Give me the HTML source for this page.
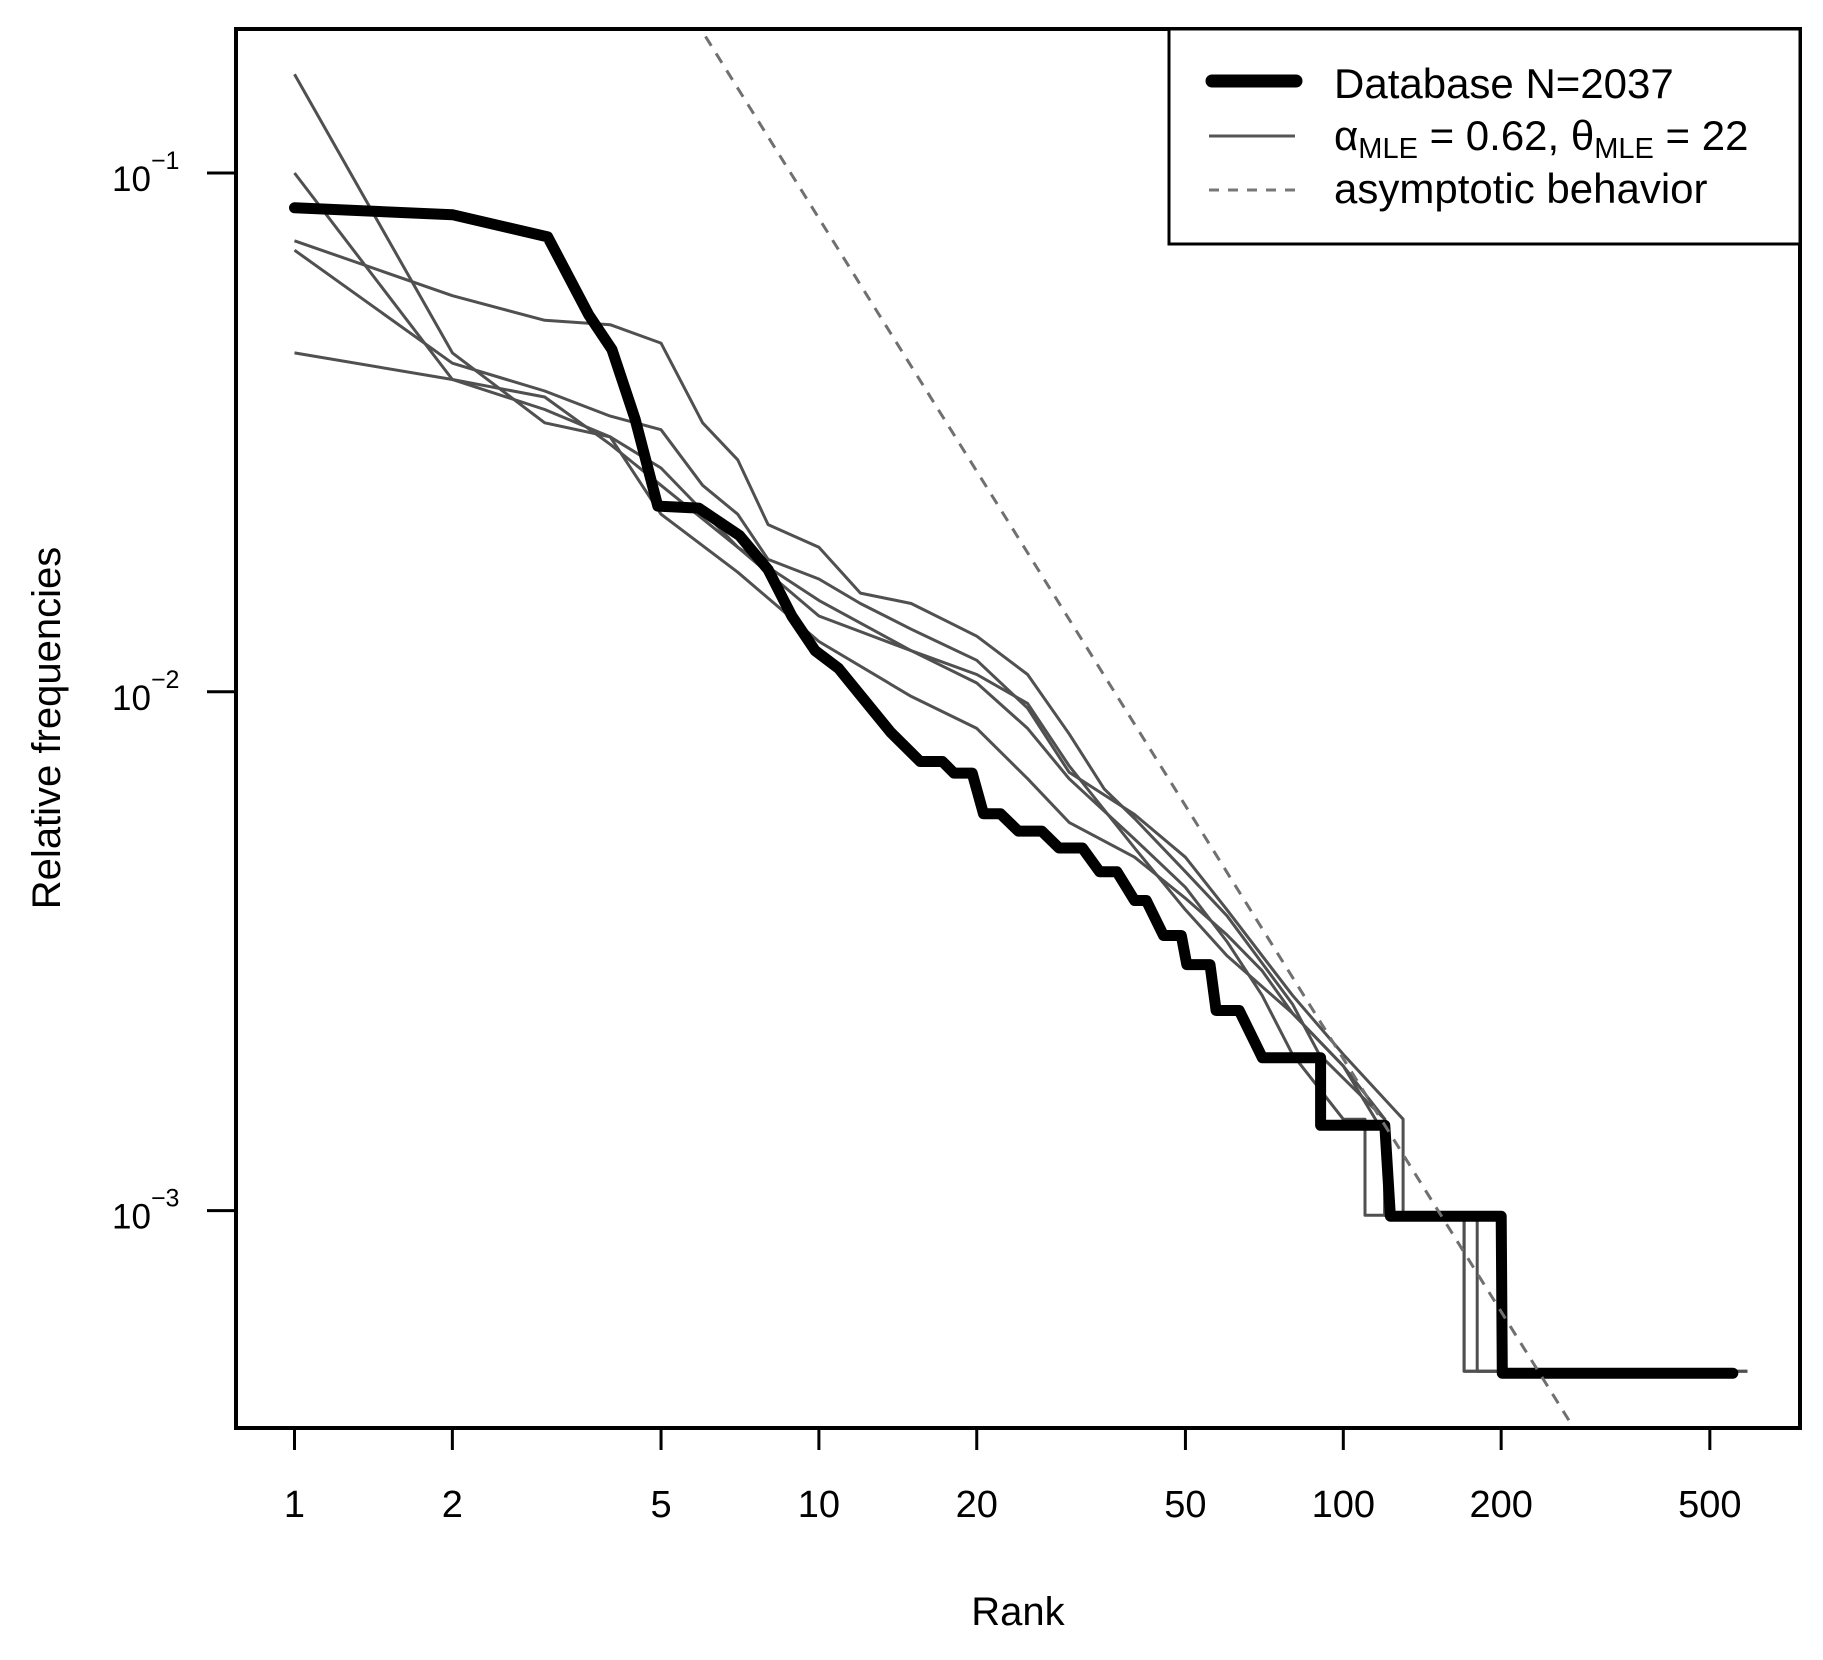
<!DOCTYPE html>
<html><head><meta charset="utf-8"><style>
html,body{margin:0;padding:0;background:#fff;}
svg{display:block;font-family:"Liberation Sans",Arial,sans-serif;}
</style></head><body>
<svg id="chart" width="1823" height="1660" viewBox="0 0 1823 1660" xmlns="http://www.w3.org/2000/svg">
<defs><clipPath id="plotclip"><rect x="236" y="29" width="1564" height="1399"/></clipPath></defs>
<g id="marks" clip-path="url(#plotclip)"></g>
<rect x="236" y="29" width="1564" height="1399" fill="none" stroke="#000" stroke-width="4"/>
<g id="xaxis"></g>
<g id="yaxis"></g>
<text x="1018" y="1625" font-size="40" text-anchor="middle">Rank</text>
<text transform="translate(60,728) rotate(-90)" font-size="40" text-anchor="middle">Relative frequencies</text>
<g>
<rect x="1169" y="29" width="631" height="215" fill="#fff" stroke="#000" stroke-width="3"/>
<line x1="1212" y1="81" x2="1296" y2="81" stroke="#000" stroke-width="13" stroke-linecap="round"/>
<text x="1334" y="98" font-size="42">Database N=2037</text>
<line x1="1209" y1="136" x2="1295" y2="136" stroke="#555" stroke-width="3"/>
<text x="1334" y="150" font-size="42">α<tspan font-size="29" dy="8">MLE</tspan><tspan dy="-8"> = 0.62, θ</tspan><tspan font-size="29" dy="8">MLE</tspan><tspan dy="-8"> = 22</tspan></text>
<line x1="1209" y1="190" x2="1295" y2="190" stroke="#777" stroke-width="3" stroke-dasharray="10,9"/>
<text x="1334" y="203" font-size="42">asymptotic behavior</text>
</g>
</svg>
<script>
const xTicks = [1, 2, 5, 10, 20, 50, 100, 200, 500];
const xTickLabels = ["1", "2", "5", "10", "20", "50", "100", "200", "500"];
const yTicks = [0.1, 0.01, 0.001];
const yTickExps = ["−1", "−2", "−3"];
const dbRanks = [1,2,3.04,3.64,4.03,4.46,4.93,5.9,7.06,8.0,8.88,9.84,10.9,12.1,13.7,15.6,17.2,18.1,19.6,20.6,22.2,24.0,26.6,28.7,31.8,34.3,37.0,40.0,42.1,45.4,49.1,50.3,55.7,57.2,63.3,70.1,90.5,90.5,120,123,200,201,553];
const dbFreqs = [0.0857,0.0831,0.0753,0.0533,0.0457,0.0336,0.0228,0.0226,0.0200,0.0172,0.0140,0.0120,0.0111,0.00975,0.00836,0.00734,0.00734,0.00697,0.00697,0.00582,0.00582,0.00539,0.00539,0.00500,0.00500,0.00450,0.00450,0.00396,0.00396,0.00339,0.00339,0.00298,0.00298,0.00243,0.00243,0.00197,0.00197,0.00146,0.00146,0.000975,0.000975,0.000486,0.000486];
const sim1Ranks = [1,2,3,4,5,7,10,15,20,25,30,40,50,60,70,80,100,120,120,200,200,590];
const sim1Freqs = [0.155,0.045,0.033,0.031,0.022,0.017,0.0125,0.0098,0.0085,0.0068,0.0056,0.0048,0.0040,0.0034,0.0029,0.0024,0.0019,0.0014,0.00098,0.00098,0.00049,0.00049];
const sim2Ranks = [1,2,3,4,5,7,10,15,20,25,30,40,50,60,70,80,100,110,110,180,180,560];
const sim2Freqs = [0.1,0.04,0.037,0.030,0.025,0.019,0.015,0.012,0.0104,0.0085,0.0068,0.0052,0.0042,0.0033,0.0026,0.0020,0.0015,0.0015,0.00098,0.00098,0.00049,0.00049];
const sim3Ranks = [1,2,3,4,5,6,7,8,10,12,15,18,20,25,30,35,40,50,60,70,80,90,120,120,170,170,590];
const sim3Freqs = [0.074,0.058,0.052,0.051,0.047,0.033,0.028,0.021,0.019,0.0155,0.0148,0.0135,0.0128,0.0108,0.0083,0.0065,0.0057,0.0045,0.0037,0.0030,0.0025,0.0020,0.0015,0.00098,0.00098,0.00049,0.00049];
const sim4Ranks = [1,2,3,4,5,6,7,8,10,12,15,20,25,30,40,50,60,70,80,100,130,130,200,200,560];
const sim4Freqs = [0.071,0.043,0.038,0.034,0.032,0.025,0.022,0.018,0.0165,0.0148,0.0132,0.0115,0.0093,0.0070,0.0058,0.0048,0.0038,0.0031,0.0026,0.0020,0.0015,0.00098,0.00098,0.00049,0.00049];
const sim5Ranks = [1,2,3,4,5,7,10,15,20,25,30,40,50,60,80,100,120,120,170,170,560];
const sim5Freqs = [0.045,0.040,0.035,0.031,0.027,0.019,0.014,0.012,0.0108,0.0095,0.0072,0.0050,0.0038,0.0031,0.0024,0.0019,0.0015,0.00098,0.00098,0.00049,0.00049];
const asymC = 3.41;
const asymSlope = -1.62;
const asymRanks = [4, 300];

const NS = "http://www.w3.org/2000/svg";
function xs(r){ return 294.5 + Math.log10(r) * 524.4; }
function ys(f){ return 173 + (-1 - Math.log10(f)) * 518.8; }
function mk(tag, attrs, parent){ const e=document.createElementNS(NS,tag); for(const k in attrs) e.setAttribute(k,attrs[k]); parent.appendChild(e); return e; }
const marks=document.getElementById('marks');
function pts(R,F){ return R.map((r,i)=>xs(r).toFixed(1)+','+ys(F[i]).toFixed(1)).join(' '); }

const sims=[[sim1Ranks,sim1Freqs],[sim2Ranks,sim2Freqs],[sim3Ranks,sim3Freqs],[sim4Ranks,sim4Freqs],[sim5Ranks,sim5Freqs]];
sims.forEach((s,i)=>{
  const p=mk('polyline',{points:pts(s[0],s[1]),fill:'none',stroke:'#505050','stroke-width':3,'stroke-linejoin':'round'},marks);
  
  
});
const db=mk('polyline',{points:pts(dbRanks,dbFreqs),fill:'none',stroke:'#000','stroke-width':11,'stroke-linejoin':'round','stroke-linecap':'round'},marks);


const aF=asymRanks.map(r=>asymC*Math.pow(r,asymSlope));
const as=mk('polyline',{points:pts(asymRanks,aF),fill:'none',stroke:'#707070','stroke-width':3,'stroke-dasharray':'11,9'},marks);



const xa=document.getElementById('xaxis');
xTicks.forEach((t,i)=>{
  const l=mk('line',{x1:xs(t),x2:xs(t),y1:1428,y2:1450,stroke:'#000','stroke-width':3},xa);
  
  
  const tx=mk('text',{x:xs(t),y:1517,'font-size':38,'text-anchor':'middle'},xa);
  tx.textContent=xTickLabels[i];
  
  
});
const ya=document.getElementById('yaxis');
yTicks.forEach((t,i)=>{
  const l=mk('line',{x1:207,x2:236,y1:ys(t),y2:ys(t),stroke:'#000','stroke-width':3},ya);
  
  
  const tx=mk('text',{x:112,y:ys(t)+18,'font-size':35},ya);
  tx.textContent='10';
  const sp=mk('tspan',{'font-size':25,dy:-22},tx);
  sp.textContent=yTickExps[i];
  
  
});
</script>
</body></html>
